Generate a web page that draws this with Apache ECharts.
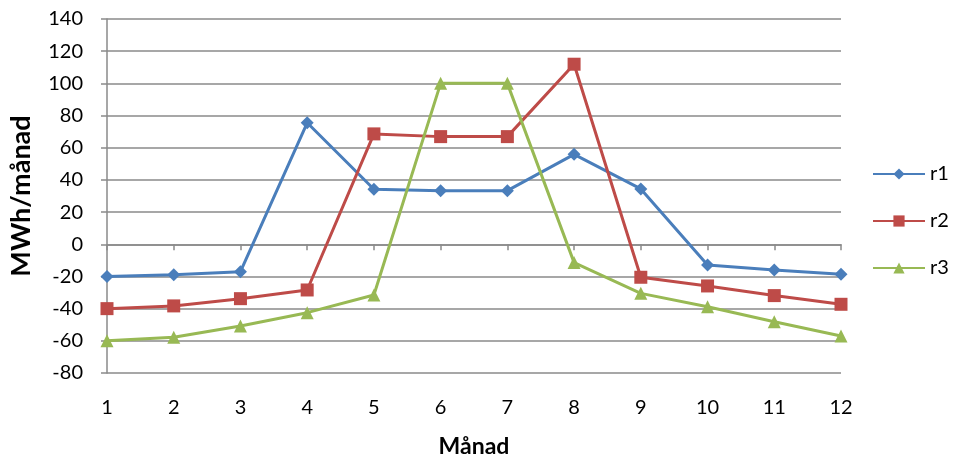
<!DOCTYPE html>
<html><head><meta charset="utf-8">
<script src="https://cdn.jsdelivr.net/npm/echarts@6/dist/echarts.min.js"></script>
<style>html,body{margin:0;padding:0;background:#fff}#c{width:954px;height:459px}</style>
</head><body><div id="c"></div>
<script>
var categories = ['1','2','3','4','5','6','7','8','9','10','11','12'];
var r1 = [-20, -19, -17, 75.5, 34.2, 33.3, 33.3, 55.9, 34.4, -12.9, -16, -18.7];
var r2 = [-40, -38.3, -33.8, -28.4, 68.6, 66.9, 66.9, 111.9, -20.5, -25.9, -31.9, -37.3];
var r3 = [-60, -57.8, -50.8, -42.5, -31.5, 100, 100, -11.4, -30.5, -38.8, -48.1, -57];
var seriesNames = ['r1', 'r2', 'r3'];
var yTicks = {min: -80, max: 140, interval: 20};

var FONT = 'Lato, "Open Sans", sans-serif';
var GRID = '#8a8a8a';
var chart = echarts.init(document.getElementById('c'), null, {renderer: 'canvas'});
function mk(name, data, color, symbol, size) {
  return {
    name: name, type: 'line', data: data, xAxisIndex: 0, yAxisIndex: 0,
    symbol: symbol, symbolSize: size, showSymbol: true,
    lineStyle: {color: color, width: 3},
    itemStyle: {color: color},
    emphasis: {disabled: true}, animation: false
  };
}
chart.setOption({
  animation: false,
  textStyle: {fontFamily: FONT},
  grid: {left: 107, right: 113, top: 19, bottom: 86, containLabel: false, outerBoundsMode: 'none'},
  legend: {
    orient: 'vertical', left: 867, top: 159, itemWidth: 52, itemHeight: 14, itemGap: 27,
    textStyle: {fontSize: 20, color: '#000', fontFamily: FONT},
    data: seriesNames
  },
  xAxis: [{
    type: 'category', data: categories, boundaryGap: false, position: 'bottom',
    axisLine: {show: false, onZero: false}, axisTick: {show: false},
    axisLabel: {fontSize: 20, color: '#000', margin: 25, fontFamily: FONT},
    name: 'Månad', nameLocation: 'middle', nameGap: 62, nameMoveOverlap: false,
    nameTextStyle: {fontSize: 23, fontWeight: 'bold', color: '#000', fontFamily: FONT},
    splitLine: {show: false}
  }, {
    type: 'category', data: categories, boundaryGap: false, position: 'bottom',
    axisLine: {show: true, onZero: true, lineStyle: {color: GRID, width: 1.5}},
    axisTick: {show: true, alignWithLabel: true, inside: false, length: 6, lineStyle: {color: GRID, width: 1.5}},
    axisLabel: {show: false}, splitLine: {show: false}
  }],
  yAxis: [{
    type: 'value', min: yTicks.min, max: yTicks.max, interval: yTicks.interval, position: 'left',
    axisLine: {show: true, onZero: false, lineStyle: {color: GRID, width: 1.5}},
    axisTick: {show: true, length: 6, lineStyle: {color: GRID, width: 1.5}},
    axisLabel: {show: false},
    splitLine: {show: true, lineStyle: {color: GRID, width: 1.5}},
    name: 'MWh/månad', nameLocation: 'middle', nameGap: 72, nameMoveOverlap: false,
    nameTextStyle: {fontSize: 27, fontWeight: 'bold', color: '#000', fontFamily: FONT}
  }, {
    type: 'value', min: yTicks.min, max: yTicks.max, interval: yTicks.interval, position: 'left', offset: 14,
    axisLine: {show: false, onZero: false}, axisTick: {show: false}, splitLine: {show: false},
    axisLabel: {fontSize: 20, color: '#000', margin: 10, fontFamily: FONT}
  }],
  series: [
    mk(seriesNames[0], r1, '#4A7EBB', 'diamond', 13),
    mk(seriesNames[1], r2, '#BE4B48', 'rect', 13),
    mk(seriesNames[2], r3, '#98B954', 'triangle', 13)
  ]
});
</script></body></html>
